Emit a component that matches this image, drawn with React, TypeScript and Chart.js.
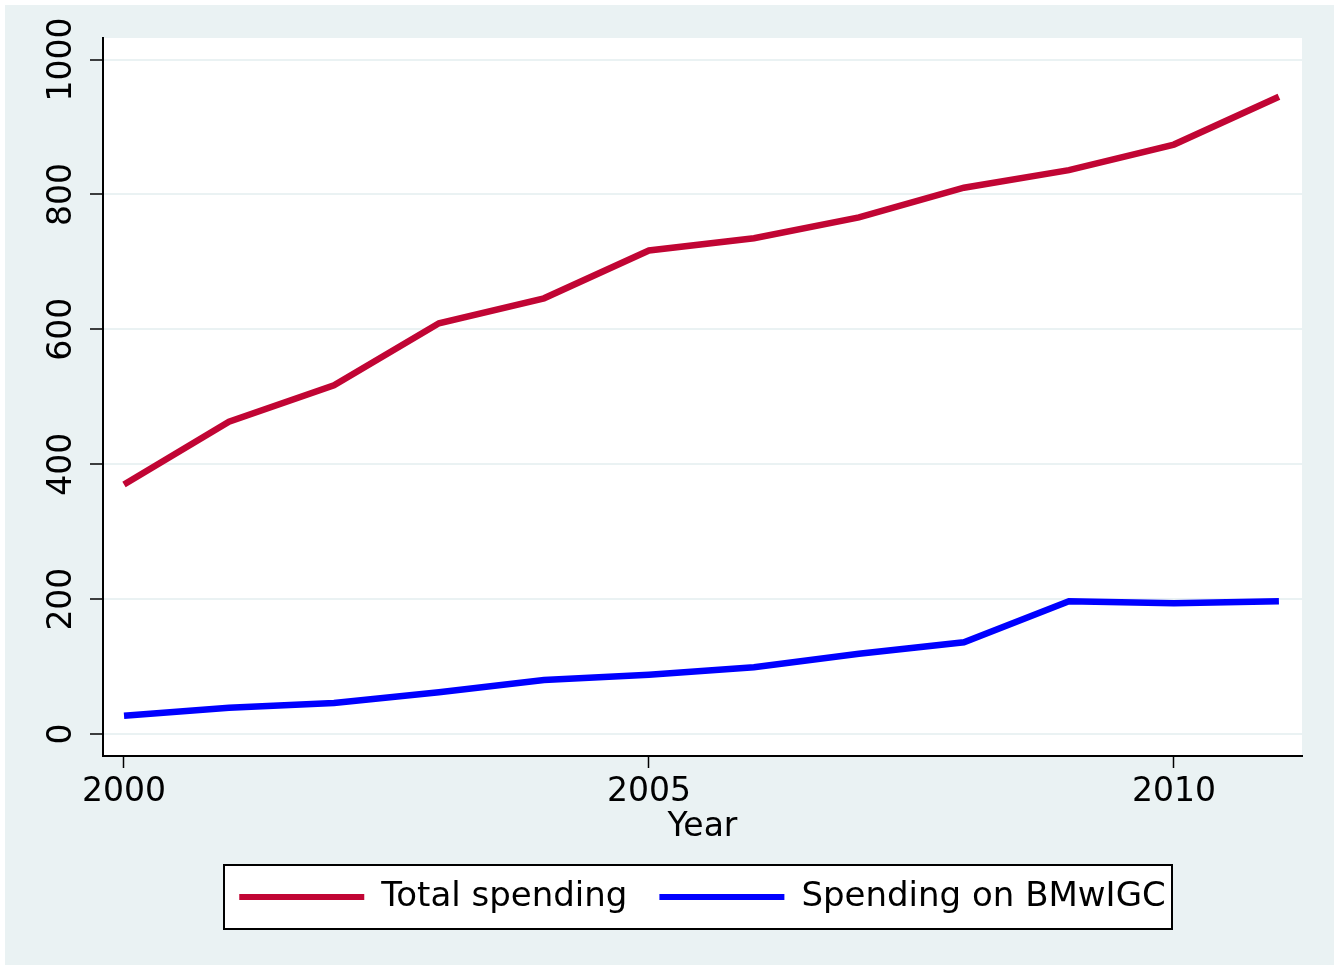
import React, { useEffect, useRef } from "react";
import { Chart, registerables } from "chart.js";

Chart.register(...registerables);

const years = [2000, 2001, 2002, 2003, 2004, 2005, 2006, 2007, 2008, 2009, 2010, 2011];
const totalSpending = [370, 463, 517, 609, 646, 717, 735, 766, 810, 836, 874, 945];
const bmwigcSpending = [27, 39, 46, 62, 80, 88, 99, 119, 136, 197, 194, 197];
const xTicks = [2000, 2005, 2010];
const yTicks = [0, 200, 400, 600, 800, 1000];
const seriesLabels = ["Total spending", "Spending on BMwIGC"];

const FONT = "'DejaVu Sans', sans-serif";
const BG = "#eaf2f3";

const backgroundPlugin = {
  id: "stataBackground",
  beforeDraw(chart: any) {
    const { ctx, chartArea } = chart;
    ctx.save();
    ctx.fillStyle = "#ffffff";
    ctx.fillRect(chartArea.left, chartArea.top, chartArea.right - chartArea.left, chartArea.bottom - chartArea.top);
    const legend = chart.legend;
    if (legend && legend.legendHitBoxes && legend.legendHitBoxes.length) {
      const hb = legend.legendHitBoxes;
      let l = Infinity, r = -Infinity, cy = 0;
      hb.forEach((h: any) => {
        l = Math.min(l, h.left);
        r = Math.max(r, h.left + h.width);
        cy = h.top + h.height / 2;
      });
      const bx = Math.round(l - 15);
      const bw = Math.round(r + 6 - bx);
      const by = Math.round(cy - 32);
      ctx.fillStyle = "#ffffff";
      ctx.fillRect(bx, by, bw, 64);
      ctx.strokeStyle = "#000000";
      ctx.lineWidth = 2;
      ctx.strokeRect(bx, by, bw, 64);
    }
    ctx.restore();
  },
};

export default function App() {
  const canvasRef = useRef<HTMLCanvasElement | null>(null);

  useEffect(() => {
    document.body.style.margin = "0";
    const canvas = canvasRef.current;
    if (!canvas) return;
    const chart = new Chart(canvas, {
      type: "line",
      data: {
        datasets: [
          {
            label: seriesLabels[0],
            data: years.map((y, i) => ({ x: y, y: totalSpending[i] })),
            borderColor: "#c10534",
            backgroundColor: "#c10534",
            borderWidth: 6.5,
            pointRadius: 0,
            tension: 0,
          },
          {
            label: seriesLabels[1],
            data: years.map((y, i) => ({ x: y, y: bmwigcSpending[i] })),
            borderColor: "#0000ff",
            backgroundColor: "#0000ff",
            borderWidth: 6.5,
            pointRadius: 0,
            tension: 0,
          },
        ],
      },
      options: {
        animation: false,
        responsive: false,
        devicePixelRatio: 1,
        layout: { padding: { left: 0, top: 38, right: 32, bottom: 41 } },
        plugins: {
          tooltip: { enabled: false },
          legend: {
            position: "bottom",
            fullSize: false,
            labels: {
              font: { family: FONT, size: 34 },
              color: "#000000",
              boxWidth: 125,
              boxHeight: 6,
              padding: 32,
              generateLabels: (c: any) =>
                Chart.defaults.plugins.legend.labels.generateLabels(c).map((it: any) => ({
                  ...it,
                  fillStyle: it.strokeStyle,
                  lineWidth: 0,
                })),
            },
          },
        },
        scales: {
          x: {
            type: "linear",
            min: 1999.8,
            max: 2011.22,
            afterBuildTicks: (s: any) => {
              s.ticks = xTicks.map((v) => ({ value: v }));
            },
            afterFit: (s: any) => {
              s.height = 92;
            },
            ticks: {
              font: { family: FONT, size: 33 },
              color: "#000000",
              padding: 5,
              maxRotation: 0,
              callback: (v: any) => String(v),
            },
            grid: {
              drawOnChartArea: false,
              drawTicks: true,
              tickLength: 12,
              tickColor: "#000000",
              tickWidth: 1.5,
            },
            border: { display: true, color: "#000000", width: 2 },
            title: {
              display: true,
              text: "Year",
              font: { family: FONT, size: 33 },
              color: "#000000",
              padding: { top: 0, bottom: 1.2 },
            },
          },
          y: {
            type: "linear",
            min: -32.6,
            max: 1032,
            afterBuildTicks: (s: any) => {
              s.ticks = yTicks.map((v) => ({ value: v }));
            },
            afterFit: (s: any) => {
              s.width = 103;
            },
            ticks: {
              font: { family: FONT, size: 33 },
              color: "#000000",
              minRotation: 90,
              maxRotation: 90,
              crossAlign: "center",
              padding: -14,
              callback: (v: any) => String(v),
            },
            grid: {
              color: BG,
              lineWidth: 2,
              drawTicks: true,
              tickLength: 13,
              tickColor: "#000000",
              tickWidth: 1.5,
            },
            border: { display: true, color: "#000000", width: 2 },
          },
        },
      },
      plugins: [backgroundPlugin],
    } as any);
    return () => chart.destroy();
  }, []);

  return (
    <div style={{ position: "relative", width: 1334, height: 965, background: "#ffffff", overflow: "hidden" }}>
      <div style={{ position: "absolute", left: 5, top: 5, width: 1329, height: 960, background: BG }} />
      <canvas
        ref={canvasRef}
        width={1334}
        height={965}
        style={{ position: "absolute", left: 0, top: 0, width: 1334, height: 965 }}
      />
    </div>
  );
}
